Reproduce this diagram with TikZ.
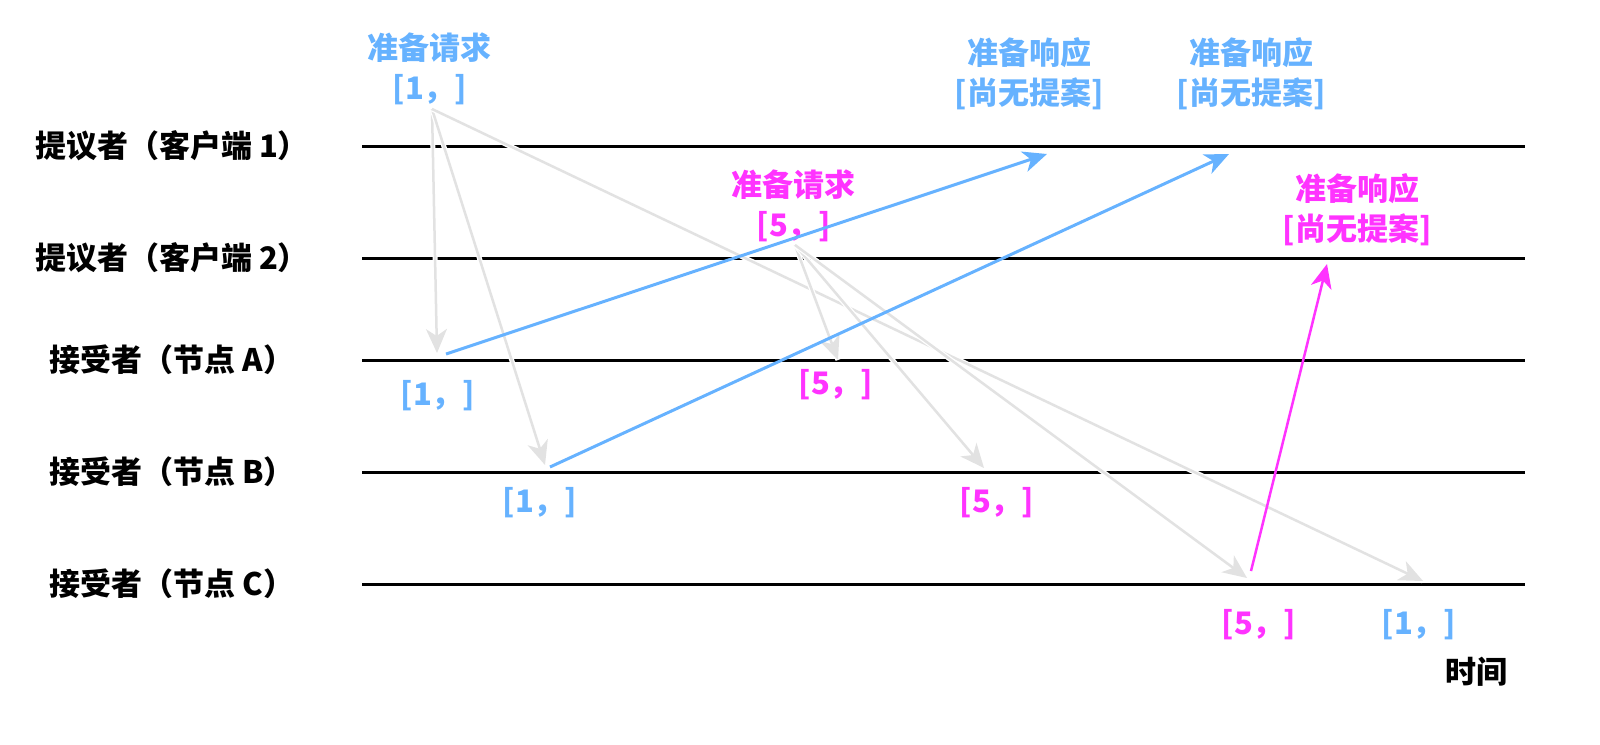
\documentclass[tikz,border=0pt]{standalone}
\usepackage{fontspec}
\setmainfont{Noto Sans CJK SC}
\usetikzlibrary{arrows.meta}
\definecolor{pxblue}{RGB}{102,178,255}
\definecolor{pxpink}{RGB}{255,51,255}
\definecolor{pxgrey}{RGB}{226,226,226}
\begin{document}
\begin{tikzpicture}[x=1pt,y=-1pt,
  lbl/.style={font=\fontsize{31}{37}\selectfont\bfseries, inner sep=0pt},
  bluetxt/.style={lbl, text=pxblue},
  pinktxt/.style={lbl, text=pxpink},
  blacktxt/.style={lbl, text=black},
  timeline/.style={draw=black, line width=3pt},
  tipstyle/.style={-{Stealth[length=24pt,width=21pt,inset=7pt]}},
  reqarrow/.style={tipstyle, draw=pxgrey, line width=2.5pt,
     preaction={draw=white, line width=5pt, -}},
  bluearrow/.style={tipstyle, draw=pxblue, line width=3pt},
  pinkarrow/.style={tipstyle, draw=pxpink, line width=2.5pt}
]
\useasboundingbox (0,0) rectangle (1600,744);

% left labels
\node[blacktxt] (lp1) at (172,146) {提议者（客户端 1）};
\node[blacktxt] (lp2) at (172,258) {提议者（客户端 2）};
\node[blacktxt] (la) at (172,360) {接受者（节点 A）};
\node[blacktxt] (lb) at (172,472) {接受者（节点 B）};
\node[blacktxt] (lc) at (172,584) {接受者（节点 C）};

% timelines
\coordinate (p1s) at (362,146); \coordinate (p1e) at (1525,146);
\coordinate (p2s) at (362,258); \coordinate (p2e) at (1525,258);
\coordinate (as) at (362,360);  \coordinate (ae) at (1525,360);
\coordinate (bs) at (362,472);  \coordinate (be) at (1525,472);
\coordinate (cs) at (362,584);  \coordinate (ce) at (1525,584);
\draw[timeline] (p1s) -- (p1e);
\draw[timeline] (p2s) -- (p2e);
\draw[timeline] (as) -- (ae);
\draw[timeline] (bs) -- (be);
\draw[timeline] (cs) -- (ce);

% request labels
\node[bluetxt] (req1t) at (429,48) {准备请求};
\node[bluetxt] (req1v) at (430,90) {[1，]};
\node[pinktxt] (req2t) at (793,185) {准备请求};
\node[pinktxt] (req2v) at (794,227) {[5，]};

% response labels
\node[bluetxt] (rsa1) at (1029,53) {准备响应};
\node[bluetxt] (rsa2) at (1029,94) {[尚无提案]};
\node[bluetxt] (rsb1) at (1251,53) {准备响应};
\node[bluetxt] (rsb2) at (1251,94) {[尚无提案]};
\node[pinktxt] (rsc1) at (1357,189) {准备响应};
\node[pinktxt] (rsc2) at (1357,230) {[尚无提案]};

% acceptor state labels
\node[bluetxt] (sa1) at (438,396) {[1，]};
\node[pinktxt] (sa5) at (836,385) {[5，]};
\node[bluetxt] (sb1) at (540,503) {[1，]};
\node[pinktxt] (sb5) at (997,503) {[5，]};
\node[pinktxt] (sc5) at (1259,625) {[5，]};
\node[bluetxt] (sc1) at (1419,625) {[1，]};
\node[blacktxt] (time) at (1476,672) {时间};

% arrow points
\coordinate (o1) at (432,109);
\coordinate (a1) at (437,353);
\coordinate (b1) at (545,465);
\coordinate (c1) at (1423,581);
\coordinate (o2) at (795,245);
\coordinate (a5) at (838,360);
\coordinate (b5) at (984,468);
\coordinate (c5) at (1247,578);
\coordinate (ra) at (446,354);
\coordinate (rta) at (1047,154);
\coordinate (rb) at (550,467);
\coordinate (rtb) at (1229,154);
\coordinate (rc) at (1251,571);
\coordinate (rtc) at (1327,264);

% prepare requests (grey)
\draw[reqarrow] (o1) -- (a1);
\draw[reqarrow] (o1) -- (b1);
\draw[reqarrow] (o1) -- (c1);
\draw[reqarrow] (o2) -- (a5);
\draw[reqarrow] (o2) -- (b5);
\draw[reqarrow] (o2) -- (c5);

% responses
\draw[bluearrow] (ra) -- (rta);
\draw[bluearrow] (rb) -- (rtb);
\draw[pinkarrow] (rc) -- (rtc);
\end{tikzpicture}
\end{document}
